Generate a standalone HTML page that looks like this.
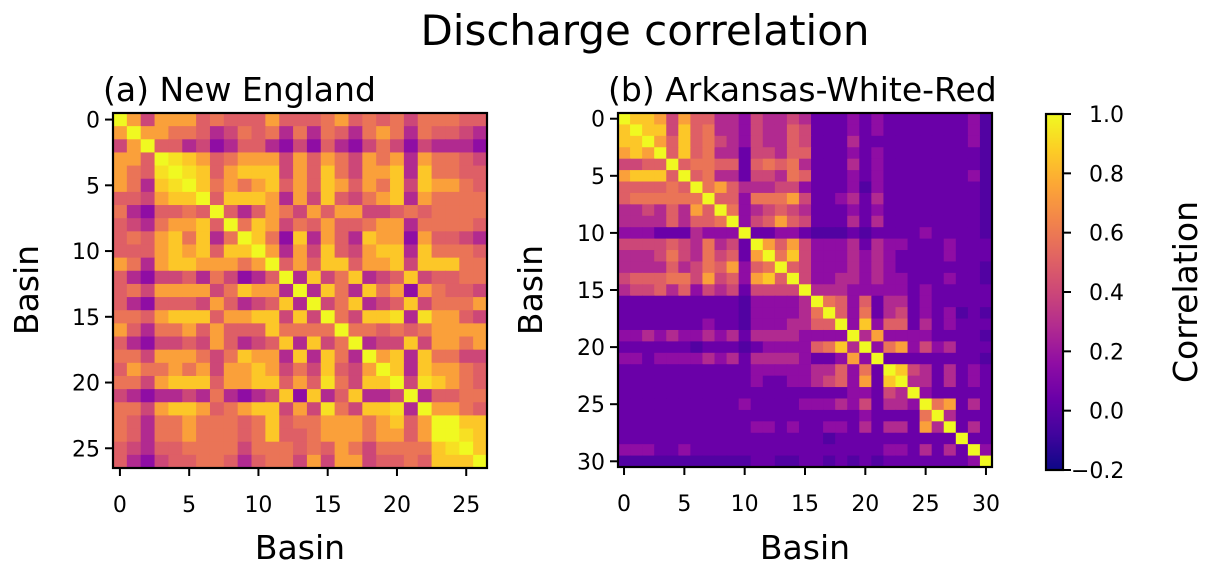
<!DOCTYPE html>
<html><head><meta charset="utf-8">
<style>
html,body{margin:0;padding:0;background:#fff;}
svg{display:block;font-family:"DejaVu Sans","Liberation Sans",sans-serif;}
</style></head>
<body>
<svg id="fig" width="1209" height="570" viewBox="0 0 1209 570">
<text x="645" y="45" font-size="42" text-anchor="middle">Discharge correlation</text>
<g id="left"></g>
<g id="right"></g>
<g id="cbar"></g>
</svg>
<script>
// ---- data ----
const levelCodes = ['-','0','1','2','3','4','5','6','7','8','9','X'];
const levelValues = [-0.1,-0.03,0.04,0.16,0.28,0.40,0.50,0.58,0.74,0.86,0.93,1.0];
// lower-triangle rows of correlation level codes (symmetric matrices)
const newEnglandRows = [
"X","7X","47X","775X","7659X","76389X","554788X","6325565X","54367785X","565786836X",
"5557878588X","76378877767X","532445364235X","5647777468773X",
"53255547534583X","665788857788484X","7536675755586666X","53244547534583846X",
"664777646877383863X","5766767477874648547X","66478885778857596488X",
"432334363234828358334X","6647887567884749648893X","65366766656856677767857X",
"65366766656855677767757XX","5435566664666565764666689X","53245566535664747745565888X"
];
const arkansasRows = [
"X","8X","88X","787X","4455X","78885X","555565X","5666666X","33435375X","333353556X",
"2221113222X","44445436341X","333464364517X","3333534657256X","45556647452785X",
"344535243414444"+"X",
"111111111102222"+"3X",
"111111111102222"+"36X",
"111111121102223"+"355X",
"223232232313333"+"2222X",
"111111011101222"+"25683X",
"221222232313333"+"211272X",
"111111111112222"+"2335261X",
"111111111112112"+"23452718X",
"111111111111111"+"111122143X",
"111111111121111"+"2223241332X",
"111111111111111"+"11111211116X",
"111111111112212"+"112213133173X",
"111111111111111"+"1101111111111X",
"222112111111111"+"11111112213131X",
"000000000001100"+"110101011111112X"
];
const neTicks = [0,5,10,15,20,25];
const arTicks = [0,5,10,15,20,25,30];
const cbTicks = [1.0,0.8,0.6,0.4,0.2,0.0,-0.2];
const cbTickLabels = ["1.0","0.8","0.6","0.4","0.2","0.0","\u22120.2"];
const vmin=-0.2, vmax=1.0;

const plasmaStops=["#0d0887","#41049d","#6a00a8","#8f0da4","#b12a90","#cc4778","#e16462","#f2844b","#fca636","#fcce25","#f0f921"];
function hex(c){return [parseInt(c.substr(1,2),16),parseInt(c.substr(3,2),16),parseInt(c.substr(5,2),16)];}
function plasma(t){t=Math.max(0,Math.min(1,t));const p=t*10;const i=Math.min(9,Math.floor(p));const f=p-i;
 const a=hex(plasmaStops[i]),b=hex(plasmaStops[i+1]);
 return "rgb("+a.map((v,k)=>Math.round(v+(b[k]-v)*f)).join(",")+")";}
function color(v){return plasma((v-vmin)/(vmax-vmin));}
function toMatrix(rows){const n=rows.length;const M=[];for(let i=0;i<n;i++)M.push(new Array(n).fill(0));
 for(let i=0;i<n;i++)for(let j=0;j<=i;j++){const c=rows[i][j];const idx=levelCodes.indexOf(c);const v=idx<0?0.1:levelValues[idx];M[i][j]=v;M[j][i]=v;}return M;}
const NS="http://www.w3.org/2000/svg";
function el(tag,attrs,parent){const e=document.createElementNS(NS,tag);for(const k in attrs)e.setAttribute(k,attrs[k]);parent.appendChild(e);return e;}
function txt(s,attrs,parent){const e=el('text',attrs,parent);e.textContent=s;return e;}

function panel(g,rows,ticks,x0,y0,w,h,title,prefix){
 const M=toMatrix(rows);const n=M.length;
 const xs=i=>x0+w*i/n, ys=i=>y0+h*i/n;
 for(let i=0;i<n;i++)for(let j=0;j<n;j++){
  const r=el('rect',{x:xs(j),y:ys(i),width:w/n+0.6,height:h/n+0.6,fill:color(M[i][j])},g);
  
  
 }
 const fr=el('rect',{x:x0,y:y0,width:w,height:h,fill:'none',stroke:'#000','stroke-width':2.2},g);
 
 
 ticks.forEach(t=>{
  const cx=xs(t+0.5), cy=ys(t+0.5);
  el('line',{x1:cx,x2:cx,y1:y0+h,y2:y0+h+8,stroke:'#000','stroke-width':2},g);
  const xl=txt(String(t),{x:cx,y:y0+h+44,'font-size':22,'text-anchor':'middle'},g);
  
  
  el('line',{x1:x0-8,x2:x0,y1:cy,y2:cy,stroke:'#000','stroke-width':2},g);
  const yl=txt(String(t),{x:x0-13,y:cy+8,'font-size':22,'text-anchor':'end'},g);
  
  
 });
 const tt=txt(title,{x:x0-10,y:y0-12,'font-size':33},g);
 
 
 const xt=txt('Basin',{x:x0+w/2,y:559,'font-size':33,'text-anchor':'middle'},g);
 
 
}
panel(document.getElementById('left'),newEnglandRows,neTicks,113,113,374,355,'(a) New England','ne');
panel(document.getElementById('right'),arkansasRows,arTicks,618,113,374,354,'(b) Arkansas-White-Red','ar');
const svg=document.getElementById('fig');
const yt1=txt('Basin',{x:0,y:0,'font-size':33,'text-anchor':'middle',transform:'translate(38,290) rotate(-90)'},svg);


const yt2=txt('Basin',{x:0,y:0,'font-size':33,'text-anchor':'middle',transform:'translate(542,290) rotate(-90)'},svg);



// colorbar
const cb=document.getElementById('cbar');
const cx0=1046,cw=17,cy0=114,ch=356;
const cyOf=v=>cy0+ch*(vmax-v)/(vmax-vmin);
for(let k=0;k<ch;k++){const v=vmax-(vmax-vmin)*(k+0.5)/ch;el('rect',{x:cx0,y:cy0+k,width:cw,height:1.2,fill:color(v)},cb);}
const cf=el('rect',{x:cx0,y:cy0,width:cw,height:ch,fill:'none',stroke:'#000','stroke-width':2.2},cb);


cbTicks.forEach((v,i)=>{const y=cyOf(v);
 el('line',{x1:cx0+cw,x2:cx0+cw+8,y1:y,y2:y,stroke:'#000','stroke-width':2},cb);
 const l=txt(cbTickLabels[i],{x:cx0+cw+(v<0?8:26),y:y+8,'font-size':22},cb);
 
 
});
const cl=txt('Correlation',{x:0,y:0,'font-size':33,'text-anchor':'middle',transform:'translate(1197,292) rotate(-90)'},cb);


</script>
</body></html>
